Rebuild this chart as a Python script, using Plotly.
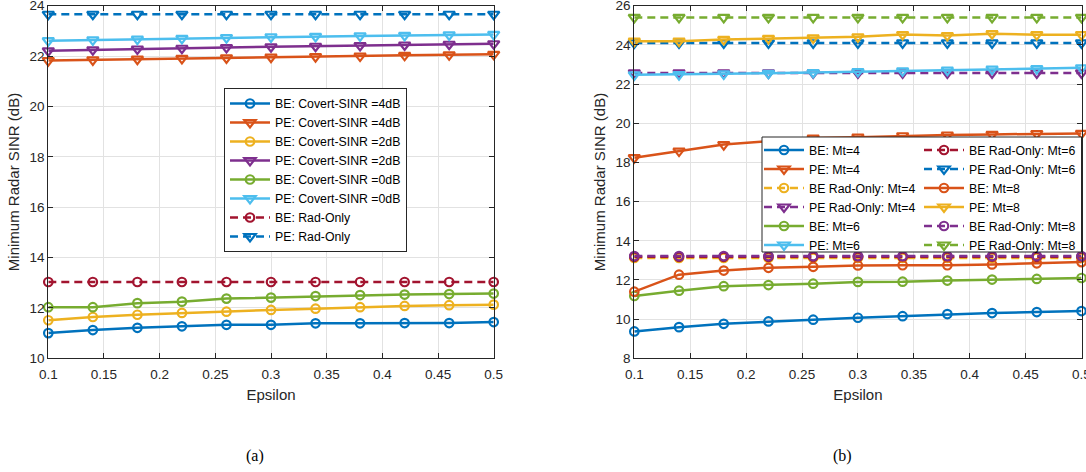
import plotly.graph_objects as go

# ---------------- data ----------------
eps = [0.10, 0.14, 0.18, 0.22, 0.26, 0.30, 0.34, 0.38, 0.42, 0.46, 0.50]

# (a) covert-SINR comparison
a_be_4 = [11.00, 11.12, 11.21, 11.27, 11.33, 11.33, 11.39, 11.39, 11.40, 11.40, 11.44]
a_pe_4 = [21.82, 21.85, 21.88, 21.91, 21.93, 21.96, 21.98, 22.00, 22.03, 22.05, 22.07]
a_be_2 = [11.51, 11.64, 11.73, 11.80, 11.85, 11.92, 11.97, 12.03, 12.08, 12.11, 12.13]
a_pe_2 = [22.21, 22.25, 22.28, 22.31, 22.34, 22.37, 22.39, 22.42, 22.44, 22.47, 22.49]
a_be_0 = [12.03, 12.03, 12.19, 12.25, 12.37, 12.41, 12.47, 12.51, 12.53, 12.55, 12.57]
a_pe_0 = [22.61, 22.64, 22.67, 22.70, 22.73, 22.76, 22.78, 22.80, 22.82, 22.84, 22.86]
a_be_rad = [13.03, 13.03, 13.03, 13.03, 13.03, 13.03, 13.03, 13.03, 13.03, 13.03, 13.03]
a_pe_rad = [23.66, 23.66, 23.66, 23.66, 23.66, 23.66, 23.66, 23.66, 23.66, 23.66, 23.66]

# (b) number of transmit antennas comparison
b_be_4 = [9.37, 9.59, 9.76, 9.88, 9.97, 10.07, 10.15, 10.26, 10.31, 10.36, 10.41]
b_pe_4 = [18.24, 18.58, 18.91, 19.09, 19.24, 19.29, 19.36, 19.40, 19.43, 19.47, 19.48]
b_be_rad_4 = [13.12, 13.12, 13.12, 13.12, 13.12, 13.12, 13.12, 13.12, 13.12, 13.12, 13.12]
b_pe_rad_4 = [22.57, 22.57, 22.57, 22.57, 22.57, 22.57, 22.57, 22.57, 22.57, 22.57, 22.57]
b_be_6 = [11.18, 11.45, 11.68, 11.74, 11.81, 11.90, 11.91, 11.97, 12.02, 12.05, 12.10]
b_pe_6 = [22.47, 22.48, 22.52, 22.55, 22.59, 22.64, 22.67, 22.71, 22.76, 22.79, 22.83]
b_be_rad_6 = [13.18, 13.18, 13.18, 13.18, 13.18, 13.18, 13.18, 13.18, 13.18, 13.18, 13.18]
b_pe_rad_6 = [24.10, 24.10, 24.10, 24.10, 24.10, 24.10, 24.10, 24.10, 24.10, 24.10, 24.10]
b_be_8 = [11.40, 12.27, 12.48, 12.62, 12.67, 12.74, 12.75, 12.75, 12.79, 12.85, 12.91]
b_pe_8 = [24.19, 24.19, 24.28, 24.33, 24.36, 24.41, 24.53, 24.48, 24.57, 24.52, 24.52]
b_be_rad_8 = [13.22, 13.22, 13.22, 13.22, 13.22, 13.22, 13.22, 13.22, 13.22, 13.22, 13.22]
b_pe_rad_8 = [25.40, 25.40, 25.40, 25.40, 25.40, 25.40, 25.40, 25.40, 25.40, 25.40, 25.40]

# ---------------- style ----------------
W, H = 1086, 472
def fx(p):
    return p / W
def fy(p):
    return 1 - p / H

C_BLUE = '#0072BD'; C_ORANGE = '#D95319'; C_YELLOW = '#EDB120'; C_PURPLE = '#7E2F8E'
C_GREEN = '#77AC30'; C_LBLUE = '#4DBEEE'; C_RED = '#A2142F'
DASH = '8px,5px'
SANS = 'Liberation Sans, Arial, sans-serif'
SERIF = 'Liberation Serif, Times New Roman, serif'
TXT = '#262626'

fig = go.Figure()

def add(y, name, color, sym, dash, xa, ya, leg):
    tri = 'triangle' in sym
    fig.add_trace(go.Scatter(
        x=eps, y=y, name=name, mode='lines+markers', xaxis=xa, yaxis=ya, legend=leg,
        cliponaxis=False,
        line=dict(color=color, width=2.5, dash=dash),
        marker=dict(symbol=sym, size=10 if tri else 8.5, color=color,
                    line=dict(color=color, width=2.2))))

CI = 'circle-open'; TR = 'triangle-down-open'
# (a)
add(a_be_4, 'BE: Covert-SINR =4dB', C_BLUE, CI, 'solid', 'x', 'y', 'legend')
add(a_pe_4, 'PE: Covert-SINR =4dB', C_ORANGE, TR, 'solid', 'x', 'y', 'legend')
add(a_be_2, 'BE: Covert-SINR =2dB', C_YELLOW, CI, 'solid', 'x', 'y', 'legend')
add(a_pe_2, 'PE: Covert-SINR =2dB', C_PURPLE, TR, 'solid', 'x', 'y', 'legend')
add(a_be_0, 'BE: Covert-SINR =0dB', C_GREEN, CI, 'solid', 'x', 'y', 'legend')
add(a_pe_0, 'PE: Covert-SINR =0dB', C_LBLUE, TR, 'solid', 'x', 'y', 'legend')
add(a_be_rad, 'BE: Rad-Only', C_RED, CI, DASH, 'x', 'y', 'legend')
add(a_pe_rad, 'PE: Rad-Only', C_BLUE, TR, DASH, 'x', 'y', 'legend')
# (b)
add(b_be_4, 'BE: Mt=4', C_BLUE, CI, 'solid', 'x2', 'y2', 'legend2')
add(b_pe_4, 'PE: Mt=4', C_ORANGE, TR, 'solid', 'x2', 'y2', 'legend2')
add(b_be_rad_4, 'BE Rad-Only: Mt=4', C_YELLOW, CI, DASH, 'x2', 'y2', 'legend2')
add(b_pe_rad_4, 'PE Rad-Only: Mt=4', C_PURPLE, TR, DASH, 'x2', 'y2', 'legend2')
add(b_be_6, 'BE: Mt=6', C_GREEN, CI, 'solid', 'x2', 'y2', 'legend2')
add(b_pe_6, 'PE: Mt=6', C_LBLUE, TR, 'solid', 'x2', 'y2', 'legend2')
add(b_be_rad_6, 'BE Rad-Only: Mt=6', C_RED, CI, DASH, 'x2', 'y2', 'legend3')
add(b_pe_rad_6, 'PE Rad-Only: Mt=6', C_BLUE, TR, DASH, 'x2', 'y2', 'legend3')
add(b_be_8, 'BE: Mt=8', C_ORANGE, CI, 'solid', 'x2', 'y2', 'legend3')
add(b_pe_8, 'PE: Mt=8', C_YELLOW, TR, 'solid', 'x2', 'y2', 'legend3')
add(b_be_rad_8, 'BE Rad-Only: Mt=8', C_PURPLE, CI, DASH, 'x2', 'y2', 'legend3')
add(b_pe_rad_8, 'PE Rad-Only: Mt=8', C_GREEN, TR, DASH, 'x2', 'y2', 'legend3')

def common():
    return dict(showline=True, linecolor=TXT, linewidth=1, mirror='ticks',
                ticks='inside', ticklen=5, tickcolor=TXT, automargin=False,
                ticklabeloverflow='allow',
                showgrid=True, gridcolor='#e2e2e2', gridwidth=1, zeroline=False,
                tickfont=dict(family=SANS, size=13.5, color=TXT))

def xax(dom, anchor):
    d = common()
    d.update(domain=dom, anchor=anchor, range=[0.1, 0.5], tick0=0.1, dtick=0.05,
             ticklabelstandoff=3,
             title=dict(text='Epsilon', font=dict(family=SANS, size=15, color=TXT), standoff=8))
    return d

def yax(dom, anchor, rng):
    d = common()
    d.update(domain=dom, anchor=anchor, range=rng, dtick=2,
             title=dict(text='Minimum Radar SINR (dB)', font=dict(family=SANS, size=15, color=TXT), standoff=6))
    return d

ydom = [fy(358.3), fy(5.7)]
legfont = dict(family=SANS, size=12.3, color='#000000')

fig.update_layout(
    width=W, height=H, margin=dict(l=0, r=0, t=0, b=0, autoexpand=False),
    paper_bgcolor='white', plot_bgcolor='white',
    xaxis=xax([fx(48.3), fx(493.7)], 'y'),
    yaxis=yax(ydom, 'x', [10, 24]),
    xaxis2=xax([fx(634.3), fx(1081.5)], 'y2'),
    yaxis2=yax(ydom, 'x2', [8, 26]),
    legend=dict(x=fx(224), y=fy(88), xanchor='left', yanchor='top',
                bgcolor='white', bordercolor=TXT, borderwidth=1,
                font=legfont, itemwidth=40, tracegroupgap=0),
    legend2=dict(x=fx(759), y=fy(135.5), xanchor='left', yanchor='top',
                 bgcolor='rgba(0,0,0,0)', borderwidth=0,
                 font=legfont, itemwidth=40, tracegroupgap=0),
    legend3=dict(x=fx(919), y=fy(135.5), xanchor='left', yanchor='top',
                 bgcolor='rgba(0,0,0,0)', borderwidth=0,
                 font=legfont, itemwidth=40, tracegroupgap=0),
    shapes=[dict(type='rect', xref='paper', yref='paper', layer='above',
                 x0=fx(762), x1=fx(1081.5), y0=fy(137), y1=fy(252),
                 line=dict(color=TXT, width=1), fillcolor='white')],
    annotations=[
        dict(text='(a)', x=fx(255), y=fy(456), xref='paper', yref='paper', showarrow=False,
             xanchor='center', yanchor='middle',
             font=dict(family=SERIF, size=16, color='#000000')),
        dict(text='(b)', x=fx(842), y=fy(456), xref='paper', yref='paper', showarrow=False,
             xanchor='center', yanchor='middle',
             font=dict(family=SERIF, size=16, color='#000000')),
    ],
)

fig.write_html('out.html', config={'displayModeBar': False},
               post_script="document.body.style.margin='0px';document.body.style.overflow='hidden';")
